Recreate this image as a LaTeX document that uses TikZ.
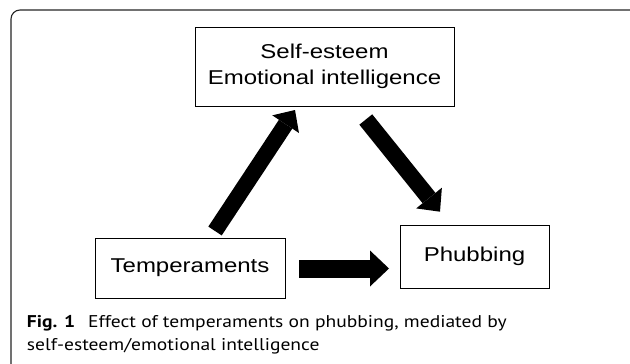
\documentclass[tikz,border=0pt]{standalone}
\usepackage{fontspec}
\newfontfamily\boxfont[FakeStretch=1.2]{Liberation Sans}
\newfontfamily\capfont[FakeStretch=1.15]{PT Sans}
\usetikzlibrary{arrows.meta}
\begin{document}
\begin{tikzpicture}[x=1pt,y=-1pt,
  box/.style={draw=black, line width=0.9pt, inner sep=0pt, outer sep=0pt,
    font=\boxfont\fontsize{20}{26.6}\selectfont, align=center},
  blockarrow/.style 2 args={line width=#1, line cap=butt,
    -{Triangle[length=#2, width=2*#1, line width=0pt]}},
  captext/.style={anchor=base west, inner sep=0pt, outer sep=0pt,
    font=\capfont\fontsize{17}{20}\selectfont}
]
\useasboundingbox (0,0) rectangle (630,364);
\fill[white] (0,0) rectangle (630,364);
% outer frame (open to the right and bottom)
\draw[line width=1.1pt, black!85, rounded corners=9pt] (11,10) rectangle (680,420);

% boxes
\node[box, minimum width=259pt, minimum height=79pt] (se) at (324.5,66.5)
  {Self-esteem\\Emotional intelligence};
\node[box, minimum width=190pt, minimum height=60pt] (tp) at (190,268) {Temperaments};
\node[box, minimum width=149pt, minimum height=63pt] (ph) at (474.5,256.5) {Phubbing};

% arrow end points
\coordinate (a1s) at (215,231);
\coordinate (a1e) at (295,110);
\coordinate (a2s) at (365.8,119.5);
\coordinate (a2e) at (440,211.7);
\coordinate (a3s) at (299,268.5);
\coordinate (a3e) at (389,268.5);

\draw[blockarrow={16pt}{17pt}] (a1s) -- (a1e);
\draw[blockarrow={16.5pt}{17.5pt}] (a2s) -- (a2e);
\draw[blockarrow={18pt}{19pt}] (a3s) -- (a3e);

% caption
\node[captext] (cap1) at (27,327)
  {\textbf{Fig. 1}\hspace{13pt}Effect of temperaments on phubbing, mediated by};
\node[captext] (cap2) at (27,350) {self-esteem/emotional intelligence};
\end{tikzpicture}
\end{document}
